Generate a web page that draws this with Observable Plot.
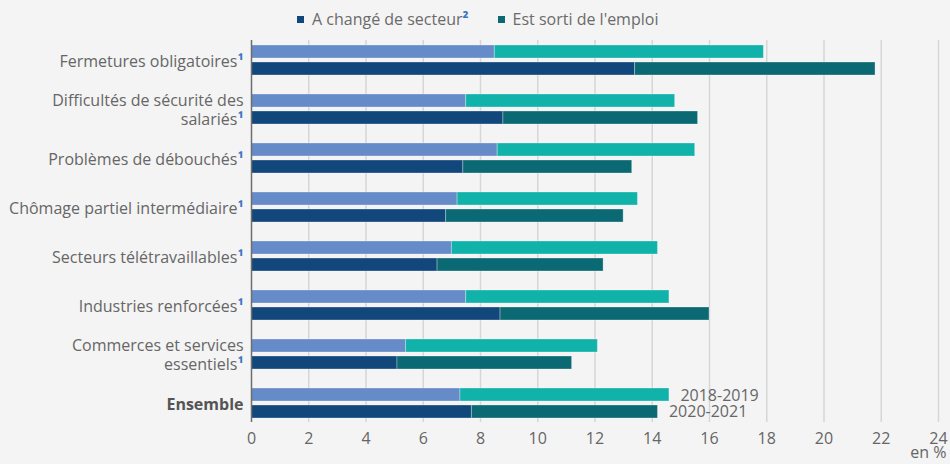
<!DOCTYPE html>
<html>
<head>
<meta charset="utf-8">
<script src="https://cdn.jsdelivr.net/npm/d3@7"></script>
<script src="https://cdn.jsdelivr.net/npm/@observablehq/plot@0.6"></script>
<style>
  html, body { margin: 0; padding: 0; background: #f4f4f4; }
  body { width: 950px; height: 464px; overflow: hidden; font-family: "Open Sans", sans-serif; }
  #legend { height: 30px; display: flex; align-items: center; justify-content: flex-start; padding-left: 297px; padding-top: 8px; box-sizing: border-box; font-size: 16px; color: #6b6b6b; }
  .item { display: flex; align-items: center; margin-right: 29px; }
  .sw { width: 7px; height: 7px; margin-right: 8px; }
  .sup { color: #3a74c4; font-weight: bold; }
  #chart svg { display: block; background: #f4f4f4; }
</style>
</head>
<body>
<div id="legend"></div>
<div id="chart"></div>
<script>
const categories = [
  "Fermetures obligatoires¹",
  "Difficultés de sécurité des\nsalariés¹",
  "Problèmes de débouchés¹",
  "Chômage partiel intermédiaire¹",
  "Secteurs télétravaillables¹",
  "Industries renforcées¹",
  "Commerces et services\nessentiels¹",
  "Ensemble"
];
const periods = ["2018-2019", "2020-2021"];
const seriesNames = ["A changé de secteur²", "Est sorti de l'emploi"];

const changed2018 = [8.5, 7.5, 8.6, 7.2, 7.0, 7.5, 5.4, 7.3];
const exited2018  = [9.4, 7.3, 6.9, 6.3, 7.2, 7.1, 6.7, 7.3];
const changed2020 = [13.4, 8.8, 7.4, 6.8, 6.5, 8.7, 5.1, 7.7];
const exited2020  = [8.4, 6.8, 5.9, 6.2, 5.8, 7.3, 6.1, 6.5];

const xTicks = [0, 2, 4, 6, 8, 10, 12, 14, 16, 18, 20, 22, 24];

const colors = {
  "2018-2019|A changé de secteur²": "#658bc8",
  "2018-2019|Est sorti de l'emploi": "#11b2aa",
  "2020-2021|A changé de secteur²": "#12477b",
  "2020-2021|Est sorti de l'emploi": "#0b6973"
};

// legend
const legend = document.getElementById("legend");
const legendColors = [colors["2020-2021|A changé de secteur²"], colors["2020-2021|Est sorti de l'emploi"]];
seriesNames.forEach((name, i) => {
  const it = document.createElement("div");
  it.className = "item";
  const sw = document.createElement("div");
  sw.className = "sw";
  sw.style.background = legendColors[i];
  it.appendChild(sw);
  const lab = document.createElement("span");
  const m = name.match(/^(.*?)([¹²]?)$/);
  lab.textContent = m[1];
  if (m[2]) {
    const s = document.createElement("span");
    s.className = "sup";
    s.textContent = m[2];
    lab.appendChild(s);
  }
  it.appendChild(lab);
  legend.appendChild(it);
});

// tidy data
const rows = [];
categories.forEach((c, i) => {
  rows.push({cat: c, period: periods[0], type: seriesNames[0], value: changed2018[i]});
  rows.push({cat: c, period: periods[0], type: seriesNames[1], value: exited2018[i]});
  rows.push({cat: c, period: periods[1], type: seriesNames[0], value: changed2020[i]});
  rows.push({cat: c, period: periods[1], type: seriesNames[1], value: exited2020[i]});
});
const totals = categories.map((c, i) => ({
  cat: c,
  t2018: changed2018[i] + exited2018[i],
  t2020: changed2020[i] + exited2020[i]
}));
const last = totals[totals.length - 1];

const FS = 16;
const textCommon = {fontSize: FS, fill: "#666", textAnchor: "end", dx: -8, lineHeight: 1.2, fontFamily: "Open Sans"};

const plot = Plot.plot({
  width: 950,
  height: 434,
  marginLeft: 251,
  marginRight: 12,
  marginTop: 10,
  marginBottom: 42,
  style: {background: "#f4f4f4", fontFamily: "Open Sans", fontSize: FS + "px", color: "#666"},
  x: {domain: [0, 24], ticks: xTicks, tickSize: 0, tickPadding: 10, label: null, tickFormat: d => String(d)},
  y: {domain: categories, paddingInner: 0.395, paddingOuter: 0.04, axis: null},
  marks: [
    Plot.ruleX(xTicks.slice(1), {stroke: "#d6d6d6", strokeWidth: 1.5}),
    Plot.barX(rows.filter(d => d.period === periods[0]), Plot.stackX({
      x: "value", y: "cat", order: seriesNames,
      fill: d => colors[d.period + "|" + d.type],
      stroke: "#ffffff", strokeOpacity: 0.3, strokeWidth: 1,
      insetTop: 0, insetBottom: 17
    })),
    Plot.barX(rows.filter(d => d.period === periods[1]), Plot.stackX({
      x: "value", y: "cat", order: seriesNames,
      fill: d => colors[d.period + "|" + d.type],
      stroke: "#ffffff", strokeOpacity: 0.3, strokeWidth: 1,
      insetTop: 17, insetBottom: 0
    })),
    Plot.ruleX([0], {stroke: "#6e6e6e", strokeWidth: 1.5}),
    Plot.text(categories.filter(c => c !== "Ensemble"), {x: 0, y: d => d, text: d => d, ...textCommon}),
    Plot.text(["Ensemble"], {x: 0, y: d => d, text: d => d, ...textCommon, fontWeight: "bold", fill: "#555"}),
    Plot.text([last], {x: d => d.t2018, y: "cat", text: () => periods[0], textAnchor: "start", dx: 11, dy: -8, fontSize: FS, fill: "#666"}),
    Plot.text([last], {x: d => d.t2020, y: "cat", text: () => periods[1], textAnchor: "start", dx: 11, dy: 8.5, fontSize: FS, fill: "#666"}),
    Plot.text(["en %"], {frameAnchor: "bottom-right", text: d => d, textAnchor: "end", dx: 8, dy: 35, fontSize: FS, fill: "#666"})
  ]
});

// color footnote superscripts
const svgns = "http://www.w3.org/2000/svg";
d3.select(plot).selectAll("text, tspan").each(function() {
  for (const node of Array.from(this.childNodes)) {
    if (node.nodeType === 3 && /[¹²]/.test(node.nodeValue)) {
      const parts = node.nodeValue.split(/([¹²])/);
      const frag = document.createDocumentFragment();
      for (const p of parts) {
        if (!p) continue;
        if (p === "¹" || p === "²") {
          const t = document.createElementNS(svgns, "tspan");
          t.setAttribute("fill", "#3a74c4");
          t.setAttribute("font-weight", "bold");
          t.textContent = p;
          frag.appendChild(t);
        } else {
          frag.appendChild(document.createTextNode(p));
        }
      }
      this.replaceChild(frag, node);
    }
  }
});

document.getElementById("chart").appendChild(plot);
</script>
</body>
</html>
